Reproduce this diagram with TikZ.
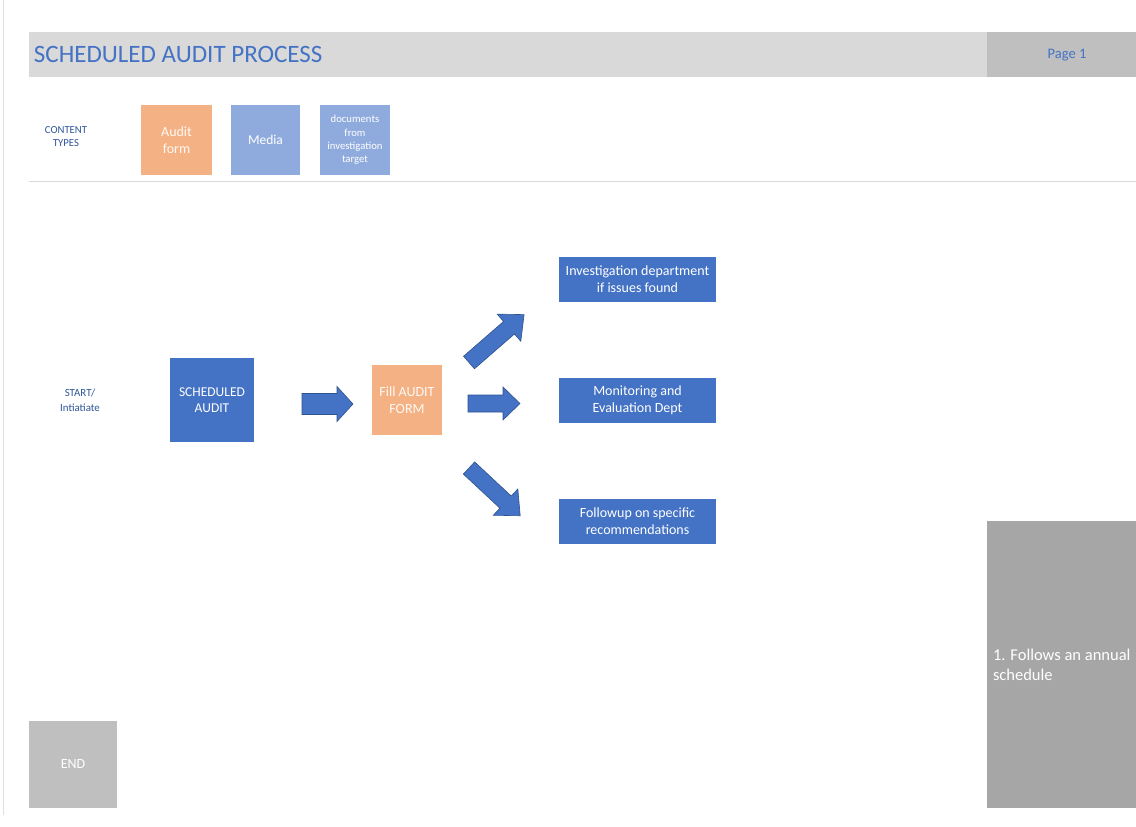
\documentclass[tikz,border=0pt]{standalone}
\usepackage{fontspec}
\setmainfont{Carlito}
\begin{document}
\begin{tikzpicture}[x=1pt,y=-1pt,
  every node/.style={inner sep=0pt, outer sep=0pt, align=center},
  bluebox/.style={fill=mblue, text=white, font=\fontsize{13.5}{15.5}\selectfont},
  orangebox/.style={fill=morange, text=white!92!morange, font=\fontsize{14}{17}\selectfont},
  lightbox/.style={fill=mlight, text=white},
  deptbox/.style={fill=mblue, text=white, minimum width=157pt, minimum height=45pt,
    font=\fontsize{14}{17}\selectfont},
  sidelabel/.style={text=mnavy, font=\fontsize{10.7}{13}\selectfont},
  blockarrow/.style={fill=marrow, draw=marrowedge, line width=0.6pt}
]
\definecolor{mblue}{HTML}{4472C4}
\definecolor{morange}{HTML}{F4B183}
\definecolor{mlight}{HTML}{8FAADC}
\definecolor{mnavy}{HTML}{2F5597}
\definecolor{marrow}{HTML}{4472C4}
\definecolor{marrowedge}{HTML}{2F528F}
\definecolor{hdrgray}{HTML}{D9D9D9}
\definecolor{pagegray}{HTML}{BFBFBF}
\definecolor{notegray}{HTML}{A6A6A6}

% canvas
\useasboundingbox (0,0) rectangle (1136,827);
\fill[white] (0,0) rectangle (1136,827);
\draw[black!12, line width=0.8pt] (3,0) -- (3,815);

% title band
\fill[hdrgray] (29,32) rectangle (987,77);
\fill[pagegray] (987,32) rectangle (1136,77);
\node[anchor=west, text=mblue, font=\fontsize{25}{27}\selectfont] (title) at (34,54) {SCHEDULED AUDIT PROCESS};
\node[text=mblue, font=\fontsize{14.5}{16}\selectfont] (page) at (1067,55) {Page 1};

% content types legend
\node[sidelabel] (ctypes) at (66,137) {CONTENT\\TYPES};
\node[orangebox, minimum width=71pt, minimum height=70pt] (auditform) at (176.5,140) {Audit\\form};
\node[lightbox, minimum width=69pt, minimum height=70pt, font=\fontsize{13.5}{16}\selectfont] (media) at (265.5,140) {Media};
\node[lightbox, minimum width=70pt, minimum height=70pt, font=\fontsize{10.7}{13.3}\selectfont] (docs) at (355,140) {documents\\from\\investigation\\target};
\draw[black!15, line width=1pt] (29,181) -- (1136,181);

% process flow
\node[sidelabel, font=\fontsize{10.9}{15}\selectfont] (start) at (80,400) {START/\\Intiatiate};
\node[bluebox, minimum width=84pt, minimum height=84pt] (sched) at (212,400) {SCHEDULED\\AUDIT};
\node[orangebox, minimum width=70pt, minimum height=70pt] (fill) at (407,400) {Fill AUDIT\\FORM};

\node[deptbox] (invest) at (637.5,279.5) {Investigation department\\if issues found};
\node[deptbox] (monit) at (637.5,400.5) {Monitoring and\\Evaluation Dept};
\node[deptbox] (follow) at (637.5,521.5) {Followup on specific\\recommendations};

% block arrows: tail point, angle, length, shaft half-width, head half-width, head length
\newcommand\blkarrow[7][]{%
  \begin{scope}[shift={#2}, rotate=#3]
    \filldraw[blockarrow,#1] (0,#5) -- ({#4-#7},#5) -- ({#4-#7},#6) -- (#4,0)
      -- ({#4-#7},-#6) -- ({#4-#7},-#5) -- (0,-#5) -- cycle;
  \end{scope}}
\coordinate (a1) at (302,404);
\coordinate (a2) at (468,403.5);
\coordinate (a3) at (469,362.5);
\coordinate (a4) at (469,468);
\blkarrow{(a1)}{0}{51}{10.5}{17.5}{16}
\blkarrow{(a2)}{0}{52}{8.5}{16.5}{17}
\blkarrow{(a3)}{41}{73}{8.3}{18}{20}
\blkarrow{(a4)}{-43}{70}{8.3}{18}{20}

% side notes
\fill[notegray] (987,521) rectangle (1136,808);
\node[anchor=west, align=left, text=white, font=\fontsize{16.5}{20}\selectfont] (note) at (993,665) {1. Follows an annual\\schedule};
\node[fill=pagegray, text=white, minimum width=88pt, minimum height=87pt, font=\fontsize{14}{16}\selectfont] (endbox) at (73,764.5) {END};
\end{tikzpicture}
\end{document}
